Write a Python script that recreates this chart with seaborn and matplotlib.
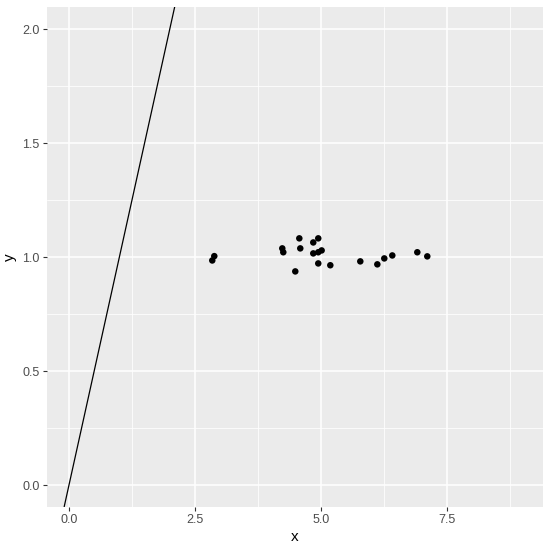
import matplotlib
matplotlib.use("Agg")
import matplotlib.pyplot as plt
import seaborn as sns
import pandas as pd
from matplotlib.ticker import MultipleLocator

x_vals = [2.883, 2.843, 4.232, 4.252, 4.570, 4.589, 4.490, 4.847, 4.946, 4.847,
          4.946, 5.013, 4.946, 5.185, 5.780, 6.118, 6.256, 6.415, 6.911, 7.109]
y_vals = [1.004, 0.985, 1.038, 1.021, 1.082, 1.038, 0.937, 1.064, 1.082, 1.016,
          1.021, 1.029, 0.972, 0.964, 0.981, 0.968, 0.994, 1.007, 1.021, 1.003]
line_intercept = 0.0
line_slope = 1.0
x_ticks = [0.0, 2.5, 5.0, 7.5]
x_tick_labels = ["0.0", "2.5", "5.0", "7.5"]
y_ticks = [0.0, 0.5, 1.0, 1.5, 2.0]
y_tick_labels = ["0.0", "0.5", "1.0", "1.5", "2.0"]

df = pd.DataFrame({"x": x_vals, "y": y_vals})

sns.set_theme(style="darkgrid")
plt.rcParams['font.family'] = ['Liberation Sans', 'DejaVu Sans']

W, H = 553, 552
fig = plt.figure(figsize=(W / 100, H / 100), dpi=100)
left, right, top, bottom = 46.5, 543, 6.7, 506.7
ax = fig.add_axes([left / W, 1 - bottom / H, (right - left) / W, (bottom - top) / H])
ax.set_facecolor("#EBEBEB")

ax.axline((0, line_intercept), slope=line_slope, color="black", linewidth=0.9, zorder=3)
sns.scatterplot(data=df, x="x", y="y", ax=ax, color="black", s=22, edgecolor="none", zorder=4)

ax.set_xlim(-0.446, 9.405)
ax.set_ylim(-0.095, 2.098)
ax.set_xticks(x_ticks)
ax.set_xticklabels(x_tick_labels)
ax.set_yticks(y_ticks)
ax.set_yticklabels(y_tick_labels)
ax.xaxis.set_minor_locator(MultipleLocator(1.25))
ax.yaxis.set_minor_locator(MultipleLocator(0.25))
ax.grid(which="major", color="white", linewidth=1.1)
ax.grid(which="minor", color="white", linewidth=0.55)
ax.set_axisbelow(True)
for s in ax.spines.values():
    s.set_visible(False)
ax.tick_params(axis="both", which="major", length=3, width=0.8, color="#333333",
               labelcolor="#4D4D4D", labelsize=9, pad=2, left=True, bottom=True)
ax.tick_params(axis="both", which="minor", length=0)
ax.set_xlabel("x", fontsize=11, color="black", labelpad=3)
ax.set_ylabel("y", fontsize=11, color="black", labelpad=4)

fig.savefig("out.png", dpi=100)
